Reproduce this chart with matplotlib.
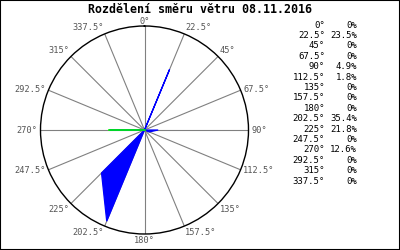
import numpy as np
import matplotlib
matplotlib.use("Agg")
import matplotlib.pyplot as plt
from matplotlib.patches import Rectangle

# wind direction distribution, 08.11.2016
title = "Rozdělení směru větru 08.11.2016"
directions = [0, 22.5, 45, 67.5, 90, 112.5, 135, 157.5,
              180, 202.5, 225, 247.5, 270, 292.5, 315, 337.5]
percent = [0, 23.5, 0, 0, 4.9, 1.8, 0, 0,
           0, 35.4, 21.8, 0, 12.6, 0, 0, 0]
current_dir = 270
r_max = 37.3

W, H = 400, 250
fig = plt.figure(figsize=(W / 100, H / 100), dpi=100)
fig.patch.set_facecolor("white")

# polar axes, center (144.5,130), radius 104 px
cx, cy, rad = 144.5, 130, 104
ax = fig.add_axes([(cx - rad) / W, (H - cy - rad) / H, 2 * rad / W, 2 * rad / H],
                  projection="polar")
ax.set_theta_zero_location("N")
ax.set_theta_direction(-1)
ax.set_ylim(0, r_max)
ax.set_yticks([])
ax.set_thetagrids(directions, labels=[])
ax.xaxis.grid(True, color="#808080", linewidth=0.8)
ax.spines["polar"].set_color("black")
ax.spines["polar"].set_linewidth(1.0)

th = np.deg2rad(directions)
ax.fill(np.append(th, th[0]), percent + [percent[0]], color="blue",
        edgecolor="blue", linewidth=0.9, zorder=3)
i = directions.index(current_dir)
ax.plot([th[i], th[i]], [0, percent[i]], color="#00ff00", linewidth=1.2, zorder=4)

# direction labels around circle
for d in directions:
    s, c = np.sin(np.deg2rad(d)), np.cos(np.deg2rad(d))
    ha = "left" if s > 0.01 else ("right" if s < -0.01 else "center")
    va = "bottom" if c > 0.5 else ("top" if c < -0.5 else "center")
    dy = 1.5 * c
    if d == 0:
        va, dy = "center", 3.0
    ax.annotate(f"{d:g}°", (np.deg2rad(d), r_max), xytext=(2 * s, dy),
                textcoords="offset points", ha=ha, va=va,
                fontsize=6.2, family="DejaVu Sans Mono", color="#555555",
                annotation_clip=False)

fig.text(0.5, 1 - 9.5 / H, title, ha="center", va="center",
         fontsize=8.4, fontweight="bold", family="DejaVu Sans Mono")

# table on the right
for k, (d, p) in enumerate(zip(directions, percent)):
    y = 1 - (25 + 10.4 * k) / H
    fig.text(325 / W, y, f"{d:g}°", ha="right", va="center",
             fontsize=6.5, family="DejaVu Sans Mono")
    fig.text(357 / W, y, f"{p:g}%", ha="right", va="center",
             fontsize=6.5, family="DejaVu Sans Mono")

fig.add_artist(Rectangle((0, 0), 1, 1, transform=fig.transFigure, fill=False,
                         edgecolor="black", linewidth=1.5))

fig.savefig("out.png", dpi=100)
